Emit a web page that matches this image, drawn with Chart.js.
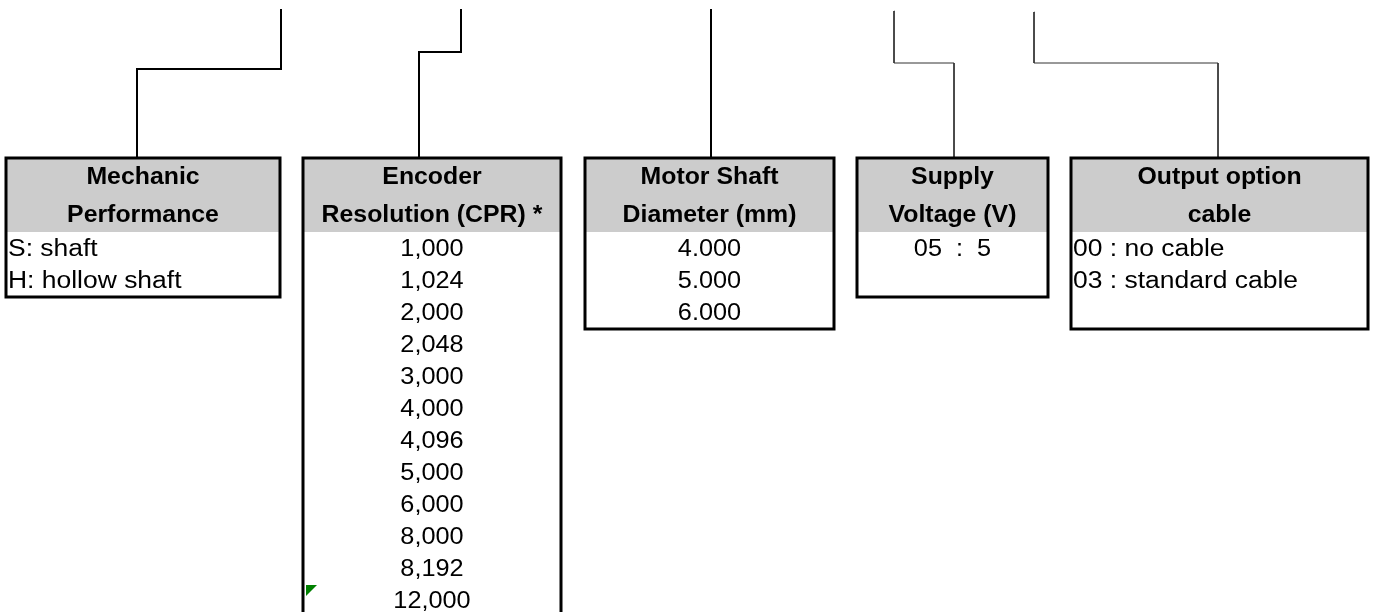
<!DOCTYPE html>
<html>
<head>
<meta charset="utf-8">
<script src="https://cdn.jsdelivr.net/npm/chart.js@4.4.1/dist/chart.umd.min.js"></script>
<style>
  html, body { margin: 0; padding: 0; background: #ffffff; }
  #wrap { width: 1374px; height: 612px; }
</style>
</head>
<body>
<div id="wrap"><canvas id="c" width="1374" height="612"></canvas></div>
<script>
// ---- data (text content of the ordering-code diagram) ----
const categories = [
  ["Mechanic", "Performance"],
  ["Encoder", "Resolution (CPR) *"],
  ["Motor Shaft", "Diameter (mm)"],
  ["Supply", "Voltage (V)"],
  ["Output option", "cable"]
];
const mechanicOptions = ["S: shaft", "H: hollow shaft"];
const encoderResolutions = ["1,000", "1,024", "2,000", "2,048", "3,000", "4,000", "4,096", "5,000", "6,000", "8,000", "8,192", "12,000"];
const shaftDiameters = ["4.000", "5.000", "6.000"];
const supplyVoltages = ["05  :  5"];
const outputOptions = ["00 : no cable", "03 : standard cable"];
const columnItems = [mechanicOptions, encoderResolutions, shaftDiameters, supplyVoltages, outputOptions];

// ---- layout (positions / styles, in chart units = pixels) ----
const boxTop = 158, headerBottom = 232;
const headerLineY = [178, 216];
const firstRowY = 249.5, rowStep = 32;
const boxLayout = [
  { x0: 6,    x1: 280,  y1: 297, align: "left" },
  { x0: 303,  x1: 561,  y1: null, align: "center" },
  { x0: 585,  x1: 834,  y1: 329, align: "center" },
  { x0: 857,  x1: 1048, y1: 297, align: "center" },
  { x0: 1071, x1: 1368, y1: 329, align: "left" }
];
const connectorPaths = [
  { pts: [[281, 10], [281, 69], [137, 69], [137, 158]], w: 2, c: "#000000" },
  { pts: [[461, 10], [461, 52], [419, 52], [419, 158]], w: 2, c: "#000000" },
  { pts: [[711, 10], [711, 158]], w: 2, c: "#000000" },
  { pts: [[894, 11], [894, 63], [954, 63], [954, 158]], w: 1, c: "#333333" },
  { pts: [[1034, 12], [1034, 63], [1218, 63], [1218, 158]], w: 1, c: "#333333" }
];

const datasets = connectorPaths.map(p => ({
  type: "line",
  data: p.pts.map(([x, y]) => ({ x, y })),
  borderColor: p.c,
  borderWidth: p.w,
  pointRadius: 0,
  fill: false,
  tension: 0,
  borderCapStyle: "square",
  borderJoinStyle: "miter"
}));

function drawText(ctx, txt, x, y, align, bold, sx) {
  ctx.save();
  ctx.font = (bold ? "bold " : "") + "23px 'Liberation Sans', Arial, sans-serif";
  ctx.textBaseline = "middle";
  ctx.textAlign = align;
  ctx.translate(x, y);
  ctx.scale(sx, 1);
  ctx.fillStyle = "#000000";
  ctx.fillText(txt, 0, 0);
  ctx.restore();
}

const diagramPlugin = {
  id: "diagram",
  beforeDatasetsDraw(chart) {
    const ctx = chart.ctx, X = chart.scales.x, Y = chart.scales.y;
    ctx.save();
    boxLayout.forEach(b => {
      const x0 = X.getPixelForValue(b.x0), x1 = X.getPixelForValue(b.x1);
      const y0 = Y.getPixelForValue(boxTop), yh = Y.getPixelForValue(headerBottom);
      const yb = Y.getPixelForValue(b.y1 === null ? 640 : b.y1);
      ctx.fillStyle = "#ffffff";
      ctx.fillRect(x0, y0, x1 - x0, yb - y0);
      ctx.fillStyle = "#cccccc";
      ctx.fillRect(x0, y0, x1 - x0, yh - y0);
    });
    ctx.restore();
  },
  afterDatasetsDraw(chart) {
    const ctx = chart.ctx, X = chart.scales.x, Y = chart.scales.y;
    categories.forEach((lines, i) => {
      const b = boxLayout[i];
      const cx = X.getPixelForValue((b.x0 + b.x1) / 2);
      lines.forEach((t, k) => drawText(ctx, t, cx, Y.getPixelForValue(headerLineY[k]), "center", true, 1.08));
      columnItems[i].forEach((t, r) => {
        const y = Y.getPixelForValue(firstRowY + r * rowStep);
        if (b.align === "left") drawText(ctx, t, X.getPixelForValue(b.x0 + 2), y, "left", false, 1.15);
        else drawText(ctx, t, cx, y, "center", false, 1.1);
      });
    });
    // box borders
    ctx.save();
    ctx.strokeStyle = "#000000";
    ctx.lineWidth = 3;
    boxLayout.forEach(b => {
      const x0 = X.getPixelForValue(b.x0), x1 = X.getPixelForValue(b.x1);
      const y0 = Y.getPixelForValue(boxTop);
      ctx.beginPath();
      if (b.y1 === null) {
        const yb = Y.getPixelForValue(640);
        ctx.moveTo(x0, yb); ctx.lineTo(x0, y0); ctx.lineTo(x1, y0); ctx.lineTo(x1, yb);
      } else {
        const yb = Y.getPixelForValue(b.y1);
        ctx.rect(x0, y0, x1 - x0, yb - y0);
      }
      ctx.stroke();
    });
    // small green marker in encoder column
    ctx.fillStyle = "#008000";
    ctx.beginPath();
    ctx.moveTo(X.getPixelForValue(306), Y.getPixelForValue(585));
    ctx.lineTo(X.getPixelForValue(317), Y.getPixelForValue(585));
    ctx.lineTo(X.getPixelForValue(306), Y.getPixelForValue(596));
    ctx.closePath();
    ctx.fill();
    ctx.restore();
  }
};

new Chart(document.getElementById("c"), {
  type: "scatter",
  data: { datasets },
  options: {
    responsive: false,
    devicePixelRatio: 1,
    animation: false,
    layout: { padding: 0 },
    plugins: { legend: { display: false }, tooltip: { enabled: false }, title: { display: false } },
    scales: {
      x: { type: "linear", min: 0, max: 1374, display: false },
      y: { type: "linear", min: 0, max: 612, reverse: true, display: false }
    }
  },
  plugins: [diagramPlugin]
});
</script>
</body>
</html>
